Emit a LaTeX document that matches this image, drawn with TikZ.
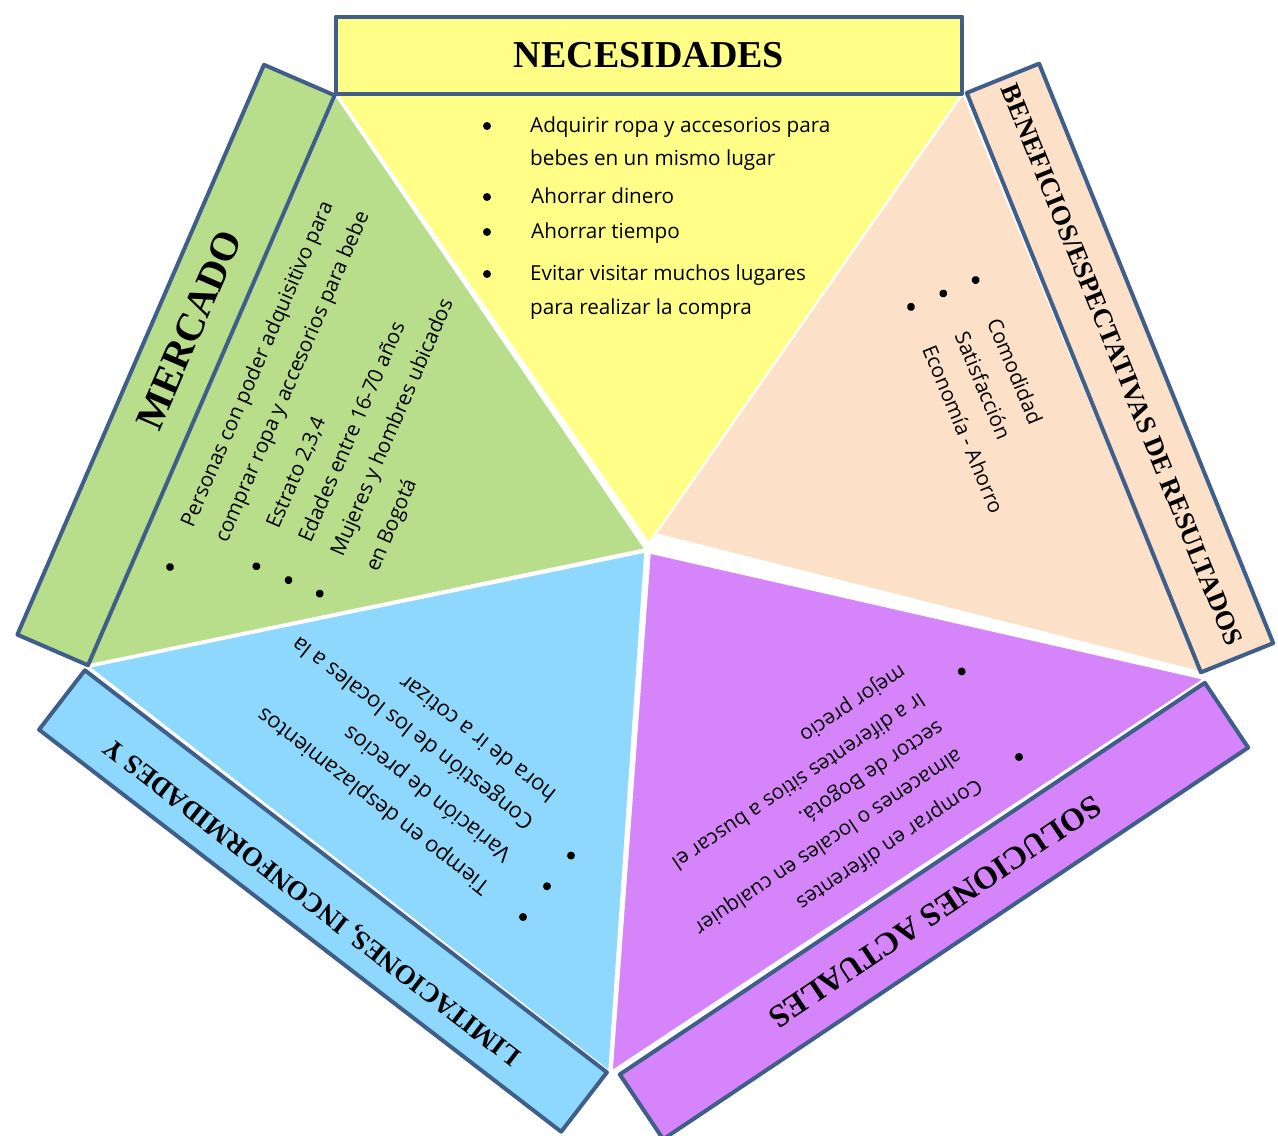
\documentclass[tikz,border=0pt]{standalone}
\usepackage{fontspec}
\setmainfont{Open Sans}
\newfontfamily\titlefont{Liberation Serif}
\usetikzlibrary{positioning}

\definecolor{necyellow}{RGB}{255,255,136}
\definecolor{mergreen}{RGB}{185,222,139}
\definecolor{benpeach}{RGB}{252,224,200}
\definecolor{limblue}{RGB}{142,216,254}
\definecolor{solpurple}{RGB}{213,132,250}
\definecolor{edgeblue}{RGB}{63,95,138}

\newcommand{\bodyfont}{\fontsize{20.7}{33}\selectfont}
\newcommand{\bigbodyfont}{\fontsize{22}{33}\selectfont}

\begin{document}
\begin{tikzpicture}[x=1pt,y=-1pt,
  sector/.style={draw=white, line width=1.5pt, line join=round},
  header/.style={draw=edgeblue, line width=4pt, inner sep=0pt, line join=round},
  title/.style={font=\titlefont\bfseries\fontsize{#1}{#1}\selectfont, inner sep=0pt},
  ln/.style={anchor=base west, inner sep=0pt, font=\bodyfont},
  bigln/.style={ln, font=\bigbodyfont}
  ]
  \useasboundingbox (0,0) rectangle (1278,1136);

  % sectors of the pentagon
  \path[sector, fill=mergreen]  (336,96) -- (88,665) -- (645,549) -- cycle;
  \path[sector, fill=necyellow] (337,94) -- (962,94) -- (649,543) -- cycle;
  \path[sector, fill=benpeach]  (963,94) -- (1201,672) -- (656,534) -- cycle;
  \path[sector, fill=limblue]   (89,667) -- (645,552) -- (609,1071) -- cycle;
  \path[sector, fill=solpurple] (650,553) -- (1204,679) -- (612,1071) -- cycle;

  % header boxes
  \node[header, fill=necyellow, minimum width=626pt, minimum height=77pt] (necbox) at (649,55) {};
  \node[header, fill=mergreen, rotate=66.6, minimum width=621pt, minimum height=77pt] (merbox) at (176,365) {};
  \node[header, fill=benpeach, rotate=-68, minimum width=625pt, minimum height=78pt] (benbox) at (1120,368) {};
  \node[header, fill=solpurple, rotate=213.8, minimum width=704pt, minimum height=78pt] (solbox) at (934,911) {};
  \node[header, fill=limblue, rotate=142.4, minimum width=659pt, minimum height=75pt] (limbox) at (323,901) {};

  \node[title=38] (nectitle) at (649,55) {NECESIDADES};
  \node[title=40, rotate=66.6] (mertitle) at (189,330) {MERCADO};
  \node[title=27, rotate=-68] (bentitle) at (1122,365) {BENEFICIOS/ESPECTATIVAS DE RESULTADOS};
  \node[title=32, rotate=213.8] (soltitle) at (935,912) {SOLUCIONES ACTUALES};
  \node[title=27, rotate=142.4] (limtitle) at (313,901) {LIMITACIONES, INCONFORMIDADES Y};

  % necesidades
  \begin{scope}[shift={(487,126)}]
    \foreach \v in {0,71,106,148}
      \fill (0,\v) circle (4);
    \node[ln] (nec1) at (43,6) {Adquirir ropa y accesorios para};
    \node[ln] (nec2) at (43,39) {bebes en un mismo lugar};
    \node[ln] (nec3) at (44,77) {Ahorrar dinero};
    \node[ln] (nec4) at (44,112) {Ahorrar tiempo};
    \node[ln] (nec5) at (43,154) {Evitar visitar muchos lugares};
    \node[ln] (nec6) at (43,188) {para realizar la compra};
  \end{scope}

  % mercado
  \begin{scope}[shift={(170,567)}, rotate=66.6, transform shape]
    \fill (0,0) circle (4);
    \foreach \v in {79,114,148}
      \fill (35,\v) circle (4);
    \node[ln] (mer1) at (44,6) {Personas con poder adquisitivo para};
    \node[ln] (mer2) at (44,43) {comprar ropa y accesorios para bebe};
    \node[ln] (mer3) at (77,85) {Estrato 2,3,4};
    \node[ln] (mer4) at (77,120) {Edades entre 16-70 años};
    \node[ln] (mer5) at (77,155) {Mujeres y hombres ubicados};
    \node[ln] (mer6) at (77,193) {en Bogotá};
  \end{scope}

  % beneficios
  \begin{scope}[shift={(976,281)}, rotate=-67.5, transform shape]
    \foreach \v in {0,35,70}
      \fill (-1,\v) circle (4);
    \node[ln] (ben1) at (42,6) {Comodidad};
    \node[ln] (ben2) at (42,41) {Satisfacción};
    \node[ln] (ben3) at (42,76) {Economía - Ahorro};
  \end{scope}

  % soluciones
  \begin{scope}[shift={(1019,757)}, rotate=213.8, transform shape]
    \foreach \v in {0,103}
      \fill (0,\v) circle (4);
    \node[ln] (sol1) at (47,6) {Comprar en diferentes};
    \node[ln] (sol2) at (47,42) {almacenes o locales en cualquier};
    \node[ln] (sol3) at (47,76) {sector de Bogotá.};
    \node[ln] (sol4) at (47,109) {Ir a diferentes sitios a buscar el};
    \node[ln] (sol5) at (47,143) {mejor precio};
  \end{scope}

  % limitaciones
  \begin{scope}[shift={(523,917)}, rotate=142, transform shape]
    \foreach \v in {0,39,78}
      \fill (0,\v) circle (4);
    \node[bigln] (lim1) at (45,6) {Tiempo en desplazamientos};
    \node[bigln] (lim2) at (48,45) {Variación de precios};
    \node[bigln] (lim3) at (50,84) {Congestión de los locales a la};
    \node[bigln] (lim4) at (50,120) {hora de ir a cotizar};
  \end{scope}
\end{tikzpicture}
\end{document}
